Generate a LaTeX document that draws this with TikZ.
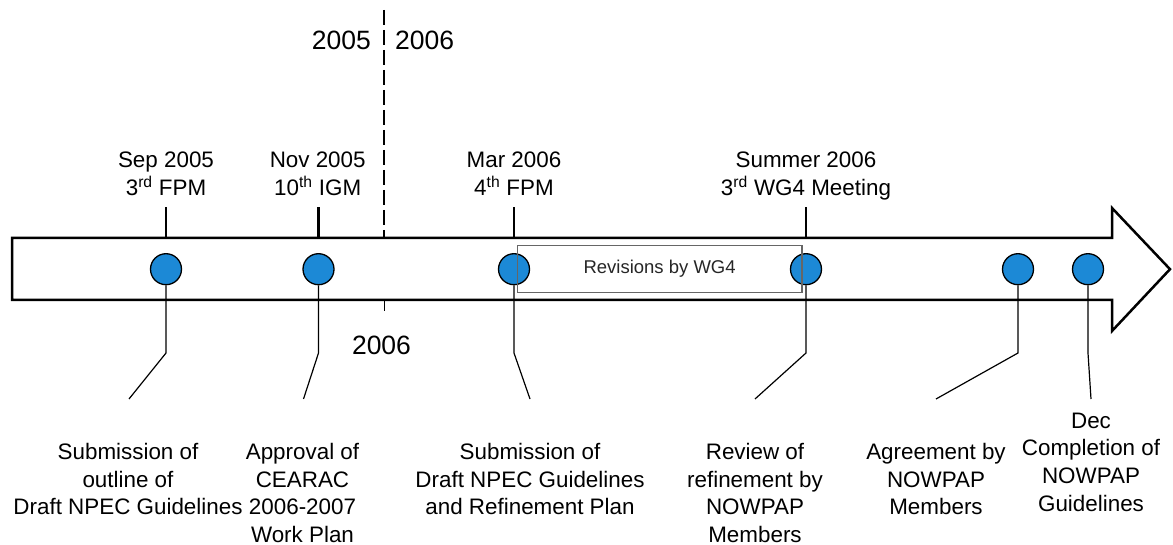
\documentclass[tikz,border=0pt]{standalone}
\usepackage{fontspec}
\setmainfont{Liberation Sans}
\definecolor{dotblue}{RGB}{28,137,214}
\tikzset{
	milestone/.style={circle, draw=black, line width=1.3pt, fill=dotblue, minimum size=31pt, inner sep=0pt},
	evtext/.style={align=center, inner sep=0pt, font=\fontsize{22.4}{27.7}\selectfont},
	yeartext/.style={inner sep=0pt, font=\fontsize{26.5}{30}\selectfont},
	leader/.style={black, line width=1.2pt},
	revbox/.style={draw=black!60, line width=1.2pt, minimum width=284.7pt, minimum height=47pt, inner sep=0pt, text=black!85, font=\fontsize{18.5}{22}\selectfont}
}
\begin{document}
\begin{tikzpicture}[x=1pt,y=-1pt]
	\def\TOP{238}
	\def\BOT{300}
	\def\MID{269.2}
	%固定画布大小
	\useasboundingbox (0,0) rectangle (1173,545);
	%绘制时间轴箭头
	\draw [line width=2.5pt, fill=white] (12,\TOP) -- (1112,\TOP) -- (1112,208) -- (1170,\MID) -- (1112,331) -- (1112,\BOT) -- (12,\BOT) -- cycle;
	\coordinate (axisTop) at (0,\TOP);
	\coordinate (bendRow) at (0,353);
	
	%2005/2006分界虚线
	\coordinate (sepTop) at (384,10);
	\coordinate (sepBot) at (384,\TOP);
	\draw [dash pattern=on 15pt off 5pt, line width=2pt] (sepTop) -- (sepBot);
	\node [yeartext, anchor=east] (y2005) at (371,40) {2005};
	\node [yeartext, anchor=west] (y2006) at (395,40) {2006};
	%下方的2006刻度
	\coordinate (tickTop) at (384,\BOT);
	\coordinate (tickBot) at (384,311);
	\draw [line width=1pt] (tickTop) -- (tickBot);
	\node [yeartext] (y2006b) at (381.5,345) {2006};
	
	%绘制事件圆点
	\foreach \n/\x in {1/166, 2/318.5, 3/514, 4/806, 5/1018, 6/1088}
		\node [milestone] (c\n) at (\x,\MID) {};
	%绘制上方刻度线
	\foreach \n in {1,...,4}
		\draw [line width=2.5pt] (c\n |- axisTop) -- ++(0,-31);
	%绘制下方引线
	\foreach \n/\ex in {1/129, 2/303.5, 3/530, 4/755, 5/936, 6/1091}{
		\coordinate (bend\n) at (c\n |- bendRow);
		\coordinate (end\n) at (\ex,399);
		\draw [leader] (c\n) -- (bend\n) -- (end\n);
	}
	
	%修订阶段方框
	\node [revbox] (rev) at (659.6,\MID) {Revisions by WG4};
	
	%上方事件标注
	\node [evtext, anchor=north] (t1) at (166,151.7) {Sep 2005\\3\textsuperscript{rd} FPM};
	\node [evtext, anchor=north] (t2) at (317.7,151.7) {Nov 2005\\10\textsuperscript{th} IGM};
	\node [evtext, anchor=north] (t3) at (514,151.7) {Mar 2006\\4\textsuperscript{th} FPM};
	\node [evtext, anchor=north] (t4) at (806,151.7) {Summer 2006\\3\textsuperscript{rd} WG4 Meeting};
	
	%下方事件说明
	\node [evtext, anchor=north] (d1) at (128,443) {Submission of\\outline of\\Draft NPEC Guidelines};
	\node [evtext, anchor=north] (d2) at (302.5,443) {Approval of\\CEARAC\\2006-2007\\Work Plan};
	\node [evtext, anchor=north] (d3) at (530,443) {Submission of\\Draft NPEC Guidelines\\and Refinement Plan};
	\node [evtext, anchor=north] (d4) at (755,443) {Review of\\refinement by\\NOWPAP\\Members};
	\node [evtext, anchor=north] (d5) at (936,443) {Agreement by\\NOWPAP\\Members};
	\node [evtext, anchor=north] (d6) at (1091,412.5) {Dec\\Completion of\\NOWPAP\\Guidelines};
\end{tikzpicture}
\end{document}
